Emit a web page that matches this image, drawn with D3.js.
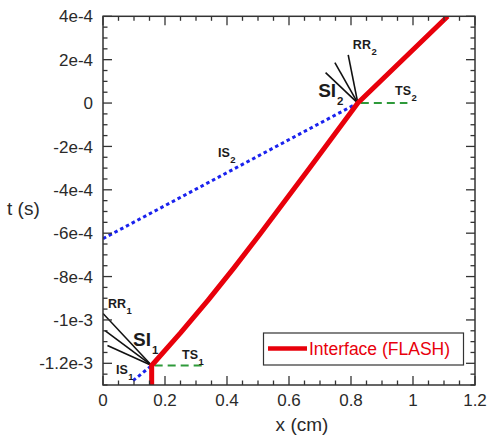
<!DOCTYPE html>
<html>
<head>
<meta charset="utf-8">
<script src="https://cdn.jsdelivr.net/npm/d3@7/dist/d3.min.js"></script>
<style>
  html, body { margin: 0; padding: 0; background: #fff; }
  svg { display: block; font-family: "Liberation Sans", Arial, sans-serif; }
</style>
</head>
<body>
<svg id="chart" width="487" height="438"></svg>
<script>
// Interface trajectory x (cm) vs t (s)
const interfacePath = [
  [0.157, -1.30e-3], [0.157, -1.21e-3], [0.250, -1.06e-3], [0.3385, -9.1e-4],
  [0.4225, -7.6e-4], [0.5085, -6.0e-4], [0.6665, -3.0e-4], [0.822, 0], [1.112, 4.0e-4]
];
// Incident shocks (dotted blue)
const incidentShock1 = [[0.097, -1.28e-3], [0.157, -1.21e-3]];
const incidentShock2 = [[0, -6.25e-4], [0.822, 0]];
// Transmitted shocks (dashed green)
const transmittedShock1 = [[0.157, -1.21e-3], [0.32, -1.21e-3]];
const transmittedShock2 = [[0.822, 0], [0.982, 0]];
// Shock–interface interaction points and rarefaction fan ends
const interaction1 = [0.157, -1.21e-3];
const interaction2 = [0.822, 0];
const rarefaction1Ends = [[0, -9.7e-4], [0.0065, -1.049e-3], [0.0144, -1.118e-3]];
const rarefaction2Ends = [[0.791, 2.22e-4], [0.748, 1.86e-4], [0.718, 1.40e-4]];

// Axis ticks
const xTickValues = [0, 0.2, 0.4, 0.6, 0.8, 1, 1.2];
const xTickLabels = ["0", "0.2", "0.4", "0.6", "0.8", "1", "1.2"];
const yTickValues = [4e-4, 2e-4, 0, -2e-4, -4e-4, -6e-4, -8e-4, -1e-3, -1.2e-3];
const yTickLabels = ["4e-4", "2e-4", "0", "-2e-4", "-4e-4", "-6e-4", "-8e-4", "-1e-3", "-1.2e-3"];

// Annotation text (main, subscript) anchored at (x, t)
const annotations = [
  { main: "RR", sub: "2", x: 0.806, t: 2.49e-4, big: false },
  { main: "SI", sub: "2", x: 0.694, t: 2.8e-5, big: true },
  { main: "TS", sub: "2", x: 0.942, t: 3.7e-5, big: false },
  { main: "IS", sub: "2", x: 0.371, t: -2.49e-4, big: false },
  { main: "RR", sub: "1", x: 0.016, t: -9.47e-4, big: false },
  { main: "SI", sub: "1", x: 0.097, t: -1.118e-3, big: true },
  { main: "TS", sub: "1", x: 0.255, t: -1.178e-3, big: false },
  { main: "IS", sub: "1", x: 0.042, t: -1.247e-3, big: false }
];
const legendLabel = "Interface (FLASH)";

const svg = d3.select("#chart");
const plotLeft = 103, plotRight = 475, plotTop = 16.3, plotBottom = 385;
const x = d3.scaleLinear().domain([0, 1.2]).range([plotLeft, plotRight]);
const y = d3.scaleLinear().domain([-1.3e-3, 4e-4]).range([plotBottom, plotTop]);

svg.append("rect").attr("width", 487).attr("height", 438).attr("fill", "#fff");

svg.append("defs").append("clipPath").attr("id", "plotClip")
  .append("rect").attr("x", plotLeft).attr("y", plotTop)
  .attr("width", plotRight - plotLeft).attr("height", plotBottom - plotTop);

const plot = svg.append("g").attr("clip-path", "url(#plotClip)");
const line = d3.line().x(d => x(d[0])).y(d => y(d[1]));

// Rarefaction fans
[[interaction1, rarefaction1Ends], [interaction2, rarefaction2Ends]].forEach(([p, ends]) => {
  ends.forEach(e => {
    plot.append("path").attr("d", line([p, e]))
      .attr("stroke", "#111").attr("stroke-width", 1.6).attr("fill", "none");
  });
});

// Transmitted shocks
[transmittedShock1, transmittedShock2].forEach(s => {
  plot.append("path").attr("d", line(s))
    .attr("stroke", "#2e9a3a").attr("stroke-width", 2)
    .attr("stroke-dasharray", "8,5").attr("stroke-dashoffset", -3)
    .attr("fill", "none");
});

// Incident shocks
[incidentShock1, incidentShock2].forEach(s => {
  plot.append("path").attr("d", line(s))
    .attr("stroke", "#1a22ee").attr("stroke-width", 3)
    .attr("stroke-dasharray", "3.5,3").attr("fill", "none");
});

// Interface
plot.append("path").attr("d", line(interfacePath))
  .attr("stroke", "#e8000b").attr("stroke-width", 5)
  .attr("stroke-linejoin", "round").attr("fill", "none");

// Frame and ticks
const axisColor = "#333";
const frame = svg.append("g");
frame.append("rect").attr("x", plotLeft).attr("y", plotTop)
  .attr("width", plotRight - plotLeft).attr("height", plotBottom - plotTop)
  .attr("fill", "none").attr("stroke", axisColor).attr("stroke-width", 1.5);

const xMinor = d3.range(0, 1.2001, 0.05);
const yMinor = d3.range(-1.3e-3, 4.0001e-4, 5e-5);
const isMajorX = v => xTickValues.some(t => Math.abs(t - v) < 1e-6);
const isMajorY = v => yTickValues.some(t => Math.abs(t - v) < 1e-9);

xMinor.forEach(v => {
  const len = isMajorX(v) ? 9 : 4.5;
  frame.append("line").attr("x1", x(v)).attr("x2", x(v)).attr("y1", plotBottom).attr("y2", plotBottom - len)
    .attr("stroke", axisColor).attr("stroke-width", 1.3);
  frame.append("line").attr("x1", x(v)).attr("x2", x(v)).attr("y1", plotTop).attr("y2", plotTop + len)
    .attr("stroke", axisColor).attr("stroke-width", 1.3);
});
yMinor.forEach(v => {
  const len = isMajorY(v) ? 9 : 4.5;
  frame.append("line").attr("y1", y(v)).attr("y2", y(v)).attr("x1", plotLeft).attr("x2", plotLeft + len)
    .attr("stroke", axisColor).attr("stroke-width", 1.3);
  frame.append("line").attr("y1", y(v)).attr("y2", y(v)).attr("x1", plotRight).attr("x2", plotRight - len)
    .attr("stroke", axisColor).attr("stroke-width", 1.3);
});

// Tick labels
const labelColor = "#2a2a2a";
xTickValues.forEach((v, i) => {
  svg.append("text").attr("x", x(v)).attr("y", 406)
    .attr("text-anchor", "middle").attr("font-size", 17).attr("fill", labelColor)
    .text(xTickLabels[i]);
});
yTickValues.forEach((v, i) => {
  svg.append("text").attr("x", 93).attr("y", y(v)).attr("dy", "0.36em")
    .attr("text-anchor", "end").attr("font-size", 17).attr("fill", labelColor)
    .text(yTickLabels[i]);
});

// Axis titles
svg.append("text").attr("x", 302).attr("y", 431).attr("text-anchor", "middle")
  .attr("font-size", 19).attr("fill", labelColor).text("x (cm)");
svg.append("text").attr("x", 7).attr("y", 215)
  .attr("font-size", 19).attr("fill", labelColor).text("t (s)");

// Annotations
annotations.forEach(a => {
  const t = svg.append("text").attr("x", x(a.x)).attr("y", y(a.t))
    .attr("font-weight", "bold").attr("fill", "#1c1c1c")
    .attr("font-size", a.big ? 19 : 12.5);
  t.append("tspan").text(a.main);
  t.append("tspan").attr("dx", a.big ? 1 : 0.5).attr("dy", a.big ? 8 : 6)
    .attr("font-size", a.big ? 11.5 : 9.5).text(a.sub);
});

// Legend
const legend = svg.append("g");
legend.append("rect").attr("x", 263.5).attr("y", 333).attr("width", 200).attr("height", 32)
  .attr("fill", "#fff").attr("stroke", "#333").attr("stroke-width", 1.2);
legend.append("line").attr("x1", 268).attr("x2", 307).attr("y1", 348.5).attr("y2", 348.5)
  .attr("stroke", "#e8000b").attr("stroke-width", 4.5);
legend.append("text").attr("x", 309).attr("y", 354.5).attr("font-size", 17.5)
  .attr("fill", "#e8000b").text(legendLabel);
</script>
</body>
</html>
